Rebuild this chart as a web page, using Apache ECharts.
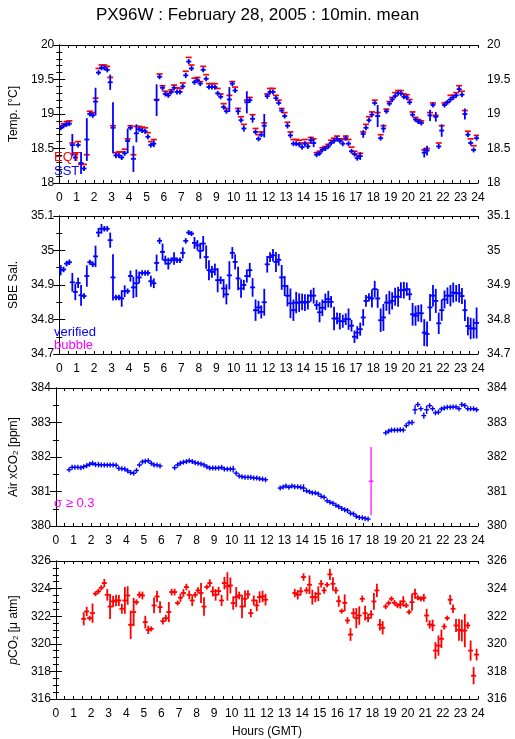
<!DOCTYPE html>
<html><head><meta charset="utf-8">
<script src="https://cdn.jsdelivr.net/npm/echarts@6/dist/echarts.min.js"></script>
<style>html,body{margin:0;padding:0;background:#fff}#c{width:515px;height:739px}</style>
</head><body><div id="c"></div><script>
// 10-minute time stamps (hours GMT)
const hours = [
0.08,0.25,0.42,0.58,0.75,0.92, 1.08,1.25,1.42,1.58,1.75,1.92, 2.08,2.25,2.42,2.58,2.75,2.92,
3.08,3.25,3.42,3.58,3.75,3.92, 4.08,4.25,4.42,4.58,4.75,4.92, 5.08,5.25,5.42,5.58,5.75,5.92,
6.08,6.25,6.42,6.58,6.75,6.92, 7.08,7.25,7.42,7.58,7.75,7.92, 8.08,8.25,8.42,8.58,8.75,8.92,
9.08,9.25,9.42,9.58,9.75,9.92, 10.08,10.25,10.42,10.58,10.75,10.92, 11.08,11.25,11.42,11.58,11.75,11.92,
12.08,12.25,12.42,12.58,12.75,12.92, 13.08,13.25,13.42,13.58,13.75,13.92, 14.08,14.25,14.42,14.58,14.75,14.92,
15.08,15.25,15.42,15.58,15.75,15.92, 16.08,16.25,16.42,16.58,16.75,16.92, 17.08,17.25,17.42,17.58,17.75,17.92,
18.08,18.25,18.42,18.58,18.75,18.92, 19.08,19.25,19.42,19.58,19.75,19.92, 20.08,20.25,20.42,20.58,20.75,20.92,
21.08,21.25,21.42,21.58,21.75,21.92, 22.08,22.25,22.42,22.58,22.75,22.92, 23.08,23.25,23.42,23.58,23.75,23.92];

// Panel 1: temperatures
const sst = [18.80,18.83,18.85,18.86,18.55,18.37,18.55,18.29,18.21,18.63,19.00,18.98,19.18,19.60,19.67,19.67,19.64,19.46,
18.80,18.40,18.40,18.37,18.43,18.61,18.80,18.35,18.72,18.78,18.76,18.75,18.67,18.55,18.57,19.20,19.54,19.38,
19.29,19.27,19.32,19.38,19.32,19.32,19.40,19.56,19.76,19.66,19.46,19.49,19.44,19.64,19.51,19.39,19.39,19.39,
19.30,19.25,19.10,19.04,19.21,19.44,19.34,19.04,18.91,18.79,19.17,19.20,18.93,18.74,18.64,18.70,18.83,19.26,
19.32,19.32,19.23,19.16,19.05,18.97,18.83,18.69,18.57,18.57,18.56,18.52,18.57,18.53,18.62,18.58,18.41,18.43,
18.48,18.50,18.53,18.58,18.61,18.64,18.61,18.57,18.65,18.57,18.46,18.42,18.36,18.39,18.71,18.80,18.91,18.99,
19.16,18.97,18.65,18.79,19.04,19.15,19.21,19.26,19.30,19.30,19.25,19.24,19.17,18.99,18.92,18.89,18.87,18.44,
18.47,18.98,19.13,18.96,18.53,18.76,19.13,19.17,19.21,19.24,19.27,19.36,19.28,19.00,18.70,18.58,18.48,18.65];
const sstSd = [0.01,0.01,0.02,0.01,0.16,0.05,0.02,0.16,0.02,0.31,0.01,0.01,0.20,0.02,0.01,0.01,0.02,0.11,
0.37,0.04,0.03,0.03,0.03,0.18,0.03,0.19,0.13,0.01,0.01,0.01,0.02,0.03,0.05,0.23,0.02,0.04,
0.01,0.01,0.03,0.02,0.02,0.01,0.03,0.04,0.02,0.03,0.03,0.03,0.03,0.02,0.03,0.01,0.01,0.01,
0.02,0.02,0.02,0.02,0.18,0.01,0.03,0.05,0.01,0.045,0.16,0.04,0.055,0.01,0.02,0.02,0.17,0.04,
0.01,0.01,0.01,0.03,0.03,0.02,0.04,0.04,0.01,0.01,0.01,0.02,0.02,0.01,0.05,0.06,0.02,0.02,
0.02,0.01,0.01,0.02,0.02,0.01,0.02,0.02,0.01,0.02,0.02,0.01,0.02,0.055,0.055,0.02,0.02,0.01,
0.02,0.16,0.02,0.06,0.02,0.02,0.02,0.01,0.01,0.01,0.01,0.01,0.02,0.01,0.01,0.01,0.03,0.07,
0.07,0.08,0.02,0.07,0.03,0.09,0.02,0.02,0.02,0.03,0.02,0.04,0.03,0.08,0.02,0.02,0.03,0.02];
const eqt = [18.83,18.86,18.89,18.90,18.58,18.42,18.60,18.27,18.27,18.41,19.04,19.02,19.23,19.66,19.71,19.71,19.69,19.53,
18.83,18.44,18.45,18.45,18.49,18.64,18.83,18.41,18.82,18.82,18.81,18.80,18.73,18.60,18.63,19.21,19.58,19.41,
19.33,19.30,19.35,19.42,19.38,19.37,19.45,19.62,19.82,19.71,19.52,19.53,19.47,19.69,19.57,19.44,19.44,19.44,
19.37,19.29,19.15,19.08,19.27,19.47,19.39,19.08,18.96,18.85,19.20,19.24,18.99,18.79,18.70,18.74,18.87,19.29,
19.37,19.37,19.27,19.20,19.08,19.02,18.88,18.74,18.63,18.63,18.62,18.58,18.63,18.58,18.66,18.64,18.44,18.46,
18.51,18.53,18.56,18.62,18.65,18.68,18.64,18.63,18.68,18.63,18.52,18.46,18.40,18.43,18.74,18.85,18.96,19.03,
19.20,19.02,18.70,18.83,19.07,19.18,19.24,19.31,19.34,19.34,19.29,19.28,19.21,19.03,18.95,18.92,18.90,18.48,
18.50,19.02,19.16,18.98,18.58,18.83,19.16,19.17,19.27,19.27,19.31,19.41,19.33,19.05,18.75,18.64,18.54,18.69];

// Panel 2: SBE salinity
const sal = [34.943,34.945,34.962,34.966,34.908,34.880,34.906,34.870,34.868,34.926,34.966,34.960,34.983,35.052,35.063,35.063,35.063,35.030,
34.922,34.864,34.864,34.861,34.882,34.882,34.926,34.893,34.905,34.922,34.935,34.935,34.935,34.911,34.905,34.964,35.028,34.996,
34.972,34.962,34.972,34.977,34.972,34.972,34.993,35.028,35.052,35.049,35.022,35.015,34.999,35.020,34.981,34.943,34.938,34.945,
34.914,34.914,34.890,34.873,34.928,34.993,34.967,34.919,34.890,34.900,34.926,34.943,34.893,34.827,34.835,34.822,34.850,34.960,
34.981,34.986,34.967,34.973,34.922,34.897,34.869,34.847,34.827,34.849,34.849,34.851,34.849,34.851,34.869,34.869,34.842,34.821,
34.834,34.851,34.859,34.851,34.803,34.803,34.795,34.795,34.801,34.801,34.782,34.750,34.762,34.772,34.806,34.854,34.864,34.861,
34.888,34.861,34.798,34.806,34.849,34.849,34.854,34.866,34.866,34.885,34.885,34.888,34.873,34.815,34.811,34.818,34.818,34.762,
34.758,34.835,34.869,34.854,34.789,34.827,34.858,34.869,34.869,34.878,34.876,34.876,34.868,34.827,34.781,34.774,34.774,34.790];
const salSd = [0.015,0.008,0.008,0.008,0.027,0.024,0.015,0.030,0.008,0.031,0.006,0.008,0.031,0.013,0.014,0.008,0.008,0.022,
0.067,0.008,0.008,0.024,0.017,0.008,0.016,0.031,0.040,0.017,0.008,0.008,0.008,0.016,0.014,0.024,0.009,0.024,
0.013,0.017,0.008,0.018,0.008,0.008,0.016,0.008,0.006,0.006,0.017,0.015,0.023,0.022,0.034,0.029,0.017,0.017,
0.035,0.011,0.027,0.029,0.041,0.017,0.022,0.034,0.027,0.015,0.019,0.021,0.027,0.031,0.019,0.019,0.039,0.024,
0.014,0.018,0.029,0.017,0.036,0.029,0.031,0.043,0.031,0.031,0.027,0.024,0.024,0.022,0.017,0.023,0.014,0.029,
0.024,0.024,0.024,0.017,0.034,0.017,0.024,0.019,0.017,0.031,0.017,0.018,0.019,0.019,0.024,0.017,0.012,0.026,
0.024,0.027,0.034,0.039,0.024,0.034,0.025,0.026,0.029,0.023,0.024,0.019,0.017,0.033,0.029,0.024,0.026,0.039,
0.036,0.039,0.031,0.035,0.031,0.031,0.026,0.024,0.031,0.029,0.024,0.027,0.023,0.031,0.027,0.031,0.029,0.045];

// Panel 3: atmospheric xCO2 (verified) and the single flagged point (sigma >= 0.3)
const airCO2 = [null,null,null,null,381.63,381.70,381.70,381.70,381.69,381.72,381.75,381.79,381.82,381.78,381.78,381.77,381.77,381.77,
381.77,381.77,381.76,381.67,381.66,381.65,381.60,381.55,381.53,381.61,381.77,381.86,381.88,381.89,381.82,381.77,381.77,381.74,
null,null,null,null,381.69,381.77,381.82,381.85,381.87,381.89,381.87,381.83,381.82,381.80,381.77,381.72,381.68,381.68,
381.68,381.68,381.70,381.65,381.65,381.65,381.65,381.53,381.45,381.43,381.41,381.41,381.41,381.39,381.39,381.37,381.36,381.34,
null,null,null,null,381.10,381.13,381.16,381.12,381.16,381.14,381.14,381.12,381.10,381.02,380.99,380.96,380.96,380.93,
380.86,380.83,380.73,380.69,380.66,380.60,380.56,380.51,380.47,380.45,380.37,380.35,380.28,380.25,380.24,380.22,380.20,null,
null,null,null,null,382.70,382.75,382.78,382.78,382.78,382.79,382.78,382.91,382.99,383.00,383.37,383.52,383.40,383.20,
383.37,383.49,383.40,383.28,383.30,383.39,383.42,383.44,383.44,383.45,383.45,383.40,383.52,383.49,383.40,383.40,383.40,383.37];
const airSd = [null,null,null,null,0.02,0.02,0.02,0.02,0.02,0.02,0.02,0.02,0.02,0.02,0.08,0.02,0.02,0.02,
0.02,0.02,0.02,0.02,0.02,0.02,0.02,0.02,0.02,0.07,0.02,0.02,0.02,0.02,0.02,0.02,0.02,0.02,
null,null,null,null,0.02,0.02,0.02,0.02,0.02,0.02,0.02,0.02,0.02,0.02,0.02,0.02,0.02,0.02,
0.02,0.02,0.02,0.02,0.02,0.02,0.10,0.02,0.02,0.02,0.02,0.02,0.02,0.02,0.02,0.02,0.02,0.02,
null,null,null,null,0.02,0.02,0.02,0.02,0.02,0.02,0.02,0.02,0.11,0.02,0.02,0.02,0.02,0.02,
0.02,0.02,0.02,0.02,0.02,0.02,0.02,0.02,0.02,0.02,0.02,0.02,0.02,0.02,0.02,0.02,0.02,null,
null,null,null,null,0.02,0.02,0.02,0.02,0.02,0.02,0.02,0.02,0.02,0.08,0.13,0.02,0.02,0.09,
0.12,0.02,0.02,0.02,0.02,0.02,0.02,0.02,0.02,0.02,0.02,0.02,0.02,0.02,0.02,0.02,0.02,0.02];
const bubbleTime = [17.92];
const bubbleCO2 = [381.30];
const bubbleSd = [0.99];

// Panel 4: seawater pCO2
const pco2 = [null,null,null,null,null,null,null,null,null,321.81,322.34,321.86,322.22,323.63,323.80,324.06,324.40,323.55,
322.70,323.07,323.14,323.14,322.54,323.14,323.50,321.38,322.30,323.02,323.55,323.50,321.57,321.01,321.08,322.78,323.43,322.66,
321.64,321.86,322.30,323.75,323.75,322.95,323.34,323.68,324.11,323.55,323.14,323.55,323.87,323.68,322.70,324.11,324.40,323.80,
323.55,323.82,323.14,324.40,324.16,324.23,322.95,323.38,323.50,322.70,323.26,323.58,322.22,323.14,322.78,323.38,323.43,323.20,
null,null,null,null,null,null,null,null,null,323.68,323.55,323.80,324.84,323.87,324.28,323.38,323.38,323.63,
324.35,323.87,324.28,325.03,324.35,323.87,323.09,322.37,322.97,321.69,320.67,322.22,321.86,322.05,323.26,322.22,321.86,322.13,
323.07,323.87,321.38,321.16,322.70,322.95,323.26,322.97,322.78,322.85,323.07,322.78,322.30,323.02,323.63,323.34,323.26,323.34,
322.05,321.40,321.33,319.51,319.87,320.36,321.25,321.86,323.19,322.54,321.33,321.01,320.96,320.96,321.33,319.51,317.69,319.22];
const pco2Sd = [null,null,null,null,null,null,null,null,null,0.48,0.34,0.10,0.70,0.12,0.12,0.12,0.30,0.42,
0.91,0.42,0.42,0.40,0.36,0.97,0.67,1.03,1.03,0.20,0.24,0.28,0.46,0.30,0.15,0.57,0.42,0.42,
0.24,0.24,0.73,0.24,0.24,0.12,0.30,0.28,0.24,0.31,0.40,0.21,0.22,0.73,0.67,0.12,0.27,0.36,
0.42,0.30,0.40,0.45,1.03,0.58,0.48,0.73,0.28,0.85,0.61,0.30,0.30,0.36,0.42,0.42,0.42,0.42,
null,null,null,null,null,null,null,null,null,0.30,0.34,0.30,0.27,0.24,0.67,0.54,0.36,0.54,
0.27,0.24,0.18,0.40,0.48,0.24,0.40,0.18,0.61,0.24,0.46,0.36,0.73,0.67,0.24,0.54,0.30,0.30,
0.61,0.48,0.42,0.48,0.15,0.18,0.12,0.20,0.15,0.30,0.38,0.15,0.17,0.63,0.36,0.15,0.15,0.28,
0.48,0.30,0.42,0.61,0.73,0.67,0.22,0.18,0.36,0.30,0.48,0.79,0.79,1.21,0.24,0.73,0.63,0.42];

// Axis ticks
const hourTicks = [0,24,1];
const yRanges = [[18,20,0.5,5],[34.7,35.1,0.1,2],[380,384,1,2],[316,326,2,4]];
const yNames = ['Temp. [°C]','SBE Sal.','Air xCO{s|2} [ppm]','{i|p}CO{s|2} [μ atm]'];

const FONT = '"Liberation Sans", Arial, Helvetica, sans-serif';
const BLUE = '#0000ff', RED = '#ff0000', MAG = '#ff00ff';
const tops = [45, 216, 388, 561];
const H = 138;

function pack(t, v, s) {
  const out = [];
  for (let i = 0; i < t.length; i++) if (v[i] != null) out.push([t[i], v[i], s ? (s[i] || 0) : 0]);
  return out;
}
function errRender(color, half, bar, lw) {
  return function (params, api) {
    const x = api.value(0), y = api.value(1), s = api.value(2);
    const c = api.coord([x, y]);
    const kids = [{type: 'line', shape: {x1: c[0] - half, y1: c[1], x2: c[0] + half, y2: c[1]},
      style: {stroke: color, lineWidth: lw}}];
    if (bar) {
      const t = api.coord([x, y + s]), b = api.coord([x, y - s]);
      kids.push({type: 'line', shape: {x1: c[0], y1: Math.min(t[1], c[1] - 2.5), x2: c[0], y2: Math.max(b[1], c[1] + 2.5)},
        style: {stroke: color, lineWidth: lw}});
    }
    return {type: 'group', children: kids};
  };
}

const grids = [], xAxes = [], yAxes = [];
for (let k = 0; k < 4; k++) {
  grids.push({left: 51, width: 427, top: tops[k], height: H});
  const baseX = {gridIndex: k, type: 'value', min: hourTicks[0], max: hourTicks[1], interval: hourTicks[2],
    axisLine: {lineStyle: {color: '#000', width: 1}},
    axisTick: {inside: true, length: 3, lineStyle: {color: '#000'}},
    minorTick: {show: true, splitNumber: 2, length: 3, lineStyle: {color: '#000'}},
    splitLine: {show: false}};
  xAxes.push(Object.assign({}, baseX, {position: 'bottom',
    axisLabel: {fontSize: 12, color: '#000', fontFamily: FONT, margin: 9},
    name: k === 3 ? 'Hours (GMT)' : '', nameLocation: 'middle', nameGap: 27,
    nameTextStyle: {fontSize: 12, color: '#000', fontFamily: FONT}}));
  const r = yRanges[k];
  const fmt = v => String(parseFloat(v.toFixed(2)));
  const baseY = {gridIndex: k, type: 'value', min: r[0], max: r[1], interval: r[2],
    axisLine: {show: true, lineStyle: {color: '#000', width: 1}},
    axisTick: {inside: true, length: 6, lineStyle: {color: '#000'}},
    minorTick: {show: true, splitNumber: r[3], length: 3, lineStyle: {color: '#000'}},
    splitLine: {show: false}};
  yAxes.push(Object.assign({}, baseY, {position: 'left',
    axisLabel: {fontSize: 12, color: '#000', fontFamily: FONT, margin: 5, formatter: fmt},
    name: yNames[k], nameLocation: 'middle', nameGap: 35,
    nameTextStyle: {fontSize: 12, color: '#000', fontFamily: FONT,
      rich: {s: {fontSize: 8, fontFamily: FONT, color: '#000', verticalAlign: 'bottom', lineHeight: 10},
             i: {fontSize: 12, fontStyle: 'italic', fontFamily: FONT, color: '#000'}}}}));
}
for (let k = 0; k < 4; k++) {
  xAxes.push(Object.assign({}, xAxes[k], {position: 'top', axisLabel: {show: false}, name: ''}));
  yAxes.push(Object.assign({}, yAxes[k], {position: 'right', name: '',
    axisLabel: {fontSize: 12, color: '#000', fontFamily: FONT, margin: 9,
      formatter: v => String(parseFloat(v.toFixed(2)))}}));
}

function cs(k, data, color, half, bar, lw, z) {
  return {type: 'custom', xAxisIndex: k, yAxisIndex: k, data: data, clip: true, z: z || 2,
    renderItem: errRender(color, half, bar, lw), animation: false};
}

const series = [
  cs(0, pack(hours, eqt, null), RED, 3, false, 1.7, 2),
  cs(0, pack(hours, sst, sstSd), BLUE, 2.5, true, 1.8, 3),
  cs(1, pack(hours, sal, salSd), BLUE, 2.5, true, 1.8, 3),
  cs(2, pack(hours, airCO2, airSd), BLUE, 2.5, true, 1.4, 3),
  cs(2, pack(bubbleTime, bubbleCO2, bubbleSd), MAG, 2.5, true, 1.2, 3),
  cs(3, pack(hours, pco2, pco2Sd), RED, 2.5, true, 1.8, 3)
];

const txt = (x, y, s, c) => ({type: 'text', left: x, top: y, z: 10,
  style: {text: s, fill: c, fontSize: 13, fontFamily: FONT}});

const chart = echarts.init(document.getElementById('c'), null, {renderer: 'canvas'});
chart.setOption({
  backgroundColor: '#fff',
  animation: false,
  title: {text: 'PX96W : February 28, 2005 : 10min. mean', left: 'center', top: 2,
    textStyle: {fontSize: 17, fontWeight: 'normal', color: '#000', fontFamily: FONT}},
  grid: grids, xAxis: xAxes, yAxis: yAxes, series: series,
  graphic: [
    txt(54, 151, 'EQT', RED), txt(54, 165, 'SST', BLUE),
    txt(54, 326, 'verified', BLUE), txt(54, 339, 'bubble', MAG),
    txt(54, 497, 'σ ≥ 0.3', MAG)
  ]
});
</script></body></html>
